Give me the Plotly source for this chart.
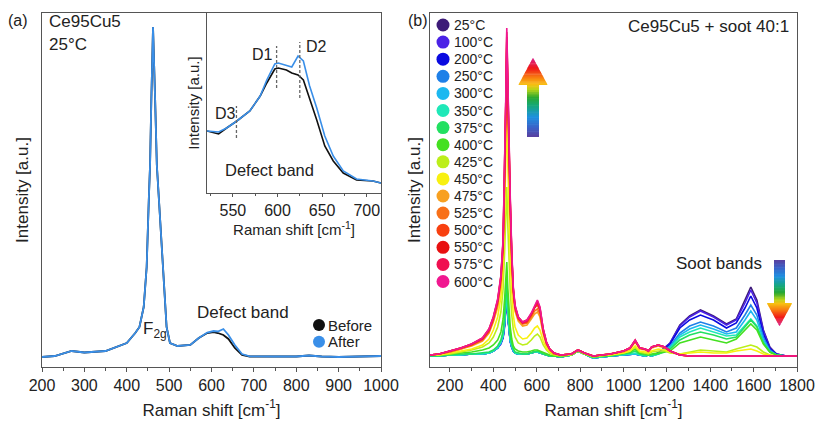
import plotly.graph_objects as go

W, H = 817, 421
FONT = "Arial, 'Liberation Sans', sans-serif"
TXT = "#222222"
AXC = "#555555"

# ---------------- panel (a) data ----------------
X_A = [200, 230, 270, 300, 350, 400, 420, 430, 440, 447, 452, 455, 458, 462, 467, 471, 476, 481, 486, 494,
       502, 520, 550, 570, 590, 605, 615, 628, 640, 655, 672, 690, 750, 800, 830, 860, 900, 950, 1000]
BEFORE = [0, 1, 6, 4.5, 6, 14, 24, 30, 50, 90, 157, 192, 257, 330, 257, 192, 157, 120, 90, 30,
          14, 11, 12, 19, 24, 25, 24, 22, 18, 9, 2, 0.5, 0.5, 0.5, 1.5, 0.5, 0, 0.5, 1]
AFTER = [0, 1, 6, 4.5, 6, 14, 24, 30, 50, 90, 157, 192, 257, 330, 257, 192, 157, 120, 90, 30,
         14, 11, 12, 19, 24.5, 26, 25.5, 28, 22, 12, 3, 0.7, 0.5, 0.5, 1.5, 0.5, 0, 0.5, 1]

# inset (defect band)
X_IN = [521, 534, 543, 554.5, 569, 580.6, 588, 597, 601, 610, 616, 623, 629, 636, 644, 653, 662.5, 673.7, 688.6, 707, 716]
BEFORE_IN = [62, 59, 65, 72, 82, 97, 110, 124, 125, 123, 120, 118, 113, 95, 73, 47, 32, 20, 13, 12, 10]
AFTER_IN = [62, 61, 65, 72, 82, 97, 113, 129, 130, 128, 126, 137, 132, 107, 85, 57, 37, 22, 14, 12, 10]
D_POS = [554, 599, 625]
D_LABELS = ["D3", "D1", "D2"]
D_LOW = [55, 105, 95]
D_HIGH = [87, 147, 151]

# ---------------- panel (b) data ----------------
X_B = [108, 150, 200, 250, 300, 350, 380, 400, 420, 435, 445, 452, 457, 462, 467, 472, 478, 485, 492, 500,
       515, 535, 555, 575, 590, 603, 615, 630, 645, 660, 680, 710, 760, 790, 820, 860, 940, 1000, 1030, 1054,
       1075, 1100, 1115, 1130, 1160, 1190, 1215, 1260, 1305, 1355, 1415, 1475, 1520, 1560, 1587, 1615, 1645,
       1675, 1705, 1750, 1800]
TEMPS = ["25°C", "100°C", "200°C", "250°C", "300°C", "350°C", "375°C", "400°C", "425°C", "450°C",
         "475°C", "525°C", "500°C", "550°C", "575°C", "600°C"]
COLORS = ["#3d1a78", "#4a22e6", "#0a0ae0", "#1e80e8", "#1cb8f0", "#1fe8b8", "#22e060", "#44e020",
          "#bcee1a", "#f8f010", "#f8a020", "#f87018", "#f84010", "#e81010", "#f01050", "#f01890"]
I_25 = [1, 1, 2, 2, 3, 3, 4, 6, 9, 14, 20, 32, 48, 62, 40, 25, 16, 10, 6, 4, 3, 3, 3, 4, 5, 5, 4, 3, 2, 1,
        1, 0, 2, 6, 3, -1, 1, 2, 2, 3, 2, 1, 2, 1, 4, 9, 14, 32, 41, 47, 41, 33, 38, 57, 70, 57, 27, 10, 3, 1, 1]
I_100 = [1, 1, 2, 2, 3, 3, 4, 6, 9, 13, 19, 30, 46, 60, 39, 24, 15, 9, 6, 4, 3, 3, 3, 4, 5, 5, 4, 3, 2, 1,
         1, 0, 2, 6, 3, -1, 1, 2, 2, 3, 2, 1, 2, 1, 4, 9, 14, 31, 40, 46, 40, 32, 37, 54, 67, 54, 26, 9, 3, 1, 1]
I_200 = [1, 1, 2, 2, 3, 3, 4, 6, 9, 14, 20, 33, 50, 64, 41, 26, 16, 10, 6, 4, 3, 3, 3, 4, 5, 5, 4, 3, 2, 1,
         1, 0, 2, 6, 3, -1, 1, 2, 2, 3, 2, 1, 2, 1, 4, 8, 13, 29, 37, 42, 37, 29, 34, 49, 61, 49, 23, 8, 3, 1, 1]
I_250 = [1, 1, 2, 2, 3, 3, 4, 6, 9, 14, 21, 33, 50, 63, 41, 26, 16, 10, 6, 4, 3, 3, 3, 4, 5, 5, 4, 3, 2, 1,
         1, 0, 2, 6, 3, -1, 1, 2, 2, 3, 2, 1, 2, 1, 3, 7, 11, 24, 31, 35, 31, 25, 29, 42, 52, 42, 20, 7, 2, 1, 1]
I_300 = [1, 1, 2, 2, 3, 3, 4, 6, 9, 14, 21, 34, 51, 64, 42, 26, 16, 10, 6, 4, 3, 3, 3, 4, 5, 5, 4, 3, 2, 1,
         1, 0, 2, 6, 3, -1, 1, 2, 2, 3, 2, 1, 2, 1, 3, 7, 10, 22, 28, 32, 28, 23, 25, 37, 46, 37, 17, 6, 2, 1, 1]
I_350 = [1, 1, 2, 2, 3, 3, 4, 6, 10, 15, 22, 35, 53, 66, 43, 27, 17, 11, 7, 4, 3, 3, 3, 4, 5, 5, 4, 3, 2, 1,
         1, 0, 2, 6, 3, -1, 1, 2, 3, 4, 2, 1, 2, 1, 3, 6, 9, 20, 25, 29, 25, 21, 22, 31, 38, 31, 15, 5, 2, 1, 1]
I_375 = [1, 1, 2, 3, 3, 4, 5, 7, 11, 17, 26, 40, 62, 78, 52, 33, 21, 13, 8, 5, 4, 3, 3, 4, 5, 6, 5, 3, 2, 1,
         1, 0, 2, 6, 3, 0, 1, 3, 4, 6, 3, 2, 2, 2, 3, 5, 8, 17, 22, 25, 22, 18, 20, 30, 37, 30, 14, 5, 2, 1, 1]
I_400 = [2, 2, 3, 4, 5, 7, 9, 12, 17, 25, 38, 58, 82, 95, 68, 45, 30, 18, 11, 8, 6, 5, 5, 6, 7, 7, 6, 4, 3, 2,
         1, 1, 2, 6, 3, 0, 2, 4, 5, 8, 4, 3, 2, 3, 4, 5, 6, 14, 17, 20, 17, 14, 18, 27, 33, 27, 13, 5, 2, 1, 1]
I_425 = [2, 2, 3, 5, 7, 10, 14, 20, 30, 45, 68, 105, 145, 170, 130, 95, 65, 42, 28, 20, 14, 12, 13, 17, 21, 23, 20, 12, 7, 4,
         2, 1, 2, 6, 3, 0, 2, 4, 6, 10, 5, 4, 3, 5, 6, 6, 4, 3, 5, 7, 6, 5, 8, 10, 12, 10, 5, 2, 1, 1, 1]
I_450 = [2, 2, 4, 6, 8, 12, 18, 27, 40, 60, 90, 140, 195, 245, 190, 140, 100, 65, 42, 30, 22, 18, 19, 24, 29, 31, 27, 16, 9, 5,
         3, 2, 3, 7, 4, 1, 2, 4, 6, 11, 6, 5, 4, 6, 8, 7, 5, 3, 4, 5, 4, 4, 6, 7, 8, 6, 3, 2, 1, 1, 1]
I_475 = [2, 3, 5, 8, 11, 16, 24, 35, 50, 72, 105, 165, 230, 300, 250, 180, 143, 93, 62, 46, 36, 31, 32, 38, 43, 45, 40, 23, 12, 7,
         3, 2, 3, 7, 4, 1, 3, 5, 8, 15, 8, 7, 5, 9, 11, 9, 6, 2, 1, 1, 1, 1, 1, 1, 1, 1, 1, 1, 1, 1, 1]
I_525 = [2, 3, 5, 8, 12, 17, 25, 37, 53, 76, 110, 172, 238, 310, 258, 186, 148, 97, 65, 48, 38, 33, 34, 40, 46, 48, 43, 25, 13, 7,
         3, 2, 3, 7, 4, 1, 3, 6, 9, 16, 9, 8, 6, 10, 12, 10, 6, 2, 1, 1, 1, 1, 1, 1, 1, 1, 1, 1, 1, 1, 1]
I_500 = [2, 3, 6, 9, 12, 18, 26, 38, 55, 78, 112, 176, 243, 315, 262, 190, 152, 100, 67, 50, 39, 34, 35, 42, 49, 52, 46, 26, 14, 8,
         4, 2, 3, 7, 4, 1, 3, 6, 9, 16, 9, 8, 6, 10, 12, 10, 6, 2, 1, 1, 1, 1, 1, 1, 1, 1, 1, 1, 1, 1, 1]
I_550 = [2, 3, 6, 9, 13, 19, 28, 40, 57, 81, 116, 182, 250, 320, 268, 195, 155, 102, 68, 51, 40, 35, 37, 43, 51, 56, 49, 28, 15, 8,
         4, 2, 3, 7, 4, 1, 3, 6, 9, 17, 9, 8, 6, 10, 12, 10, 6, 2, 1, 1, 1, 1, 1, 1, 1, 1, 1, 1, 1, 1, 1]
I_575 = [2, 3, 6, 9, 13, 18, 27, 39, 56, 80, 115, 180, 250, 325, 270, 196, 156, 102, 68, 50, 39, 34, 36, 43, 50, 55, 48, 27, 14, 8,
         4, 2, 3, 7, 4, 1, 3, 6, 9, 16, 9, 8, 6, 10, 12, 10, 6, 2, 1, 1, 1, 1, 1, 1, 1, 1, 1, 1, 1, 1, 1]
I_600 = [2, 3, 6, 9, 13, 19, 28, 40, 58, 82, 118, 185, 255, 329, 275, 200, 160, 105, 70, 52, 40, 35, 37, 44, 52, 57, 50, 28, 15, 8,
         4, 2, 3, 7, 4, 1, 3, 6, 9, 17, 9, 8, 6, 10, 12, 10, 6, 2, 1, 1, 1, 1, 1, 1, 1, 1, 1, 1, 1, 1, 1]
SERIES_B = [I_25, I_100, I_200, I_250, I_300, I_350, I_375, I_400, I_425, I_450,
            I_475, I_525, I_500, I_550, I_575, I_600]

BLACK = "#111111"
BLUE = "#3a8fe8"


def px(x):
    return x / W


def py(y):
    return 1 - y / H


fig = go.Figure()

# panel (a)
fig.add_trace(go.Scatter(x=X_A, y=BEFORE, mode="lines", line=dict(color=BLACK, width=1.8),
                         name="Before", xaxis="x", yaxis="y", showlegend=False))
fig.add_trace(go.Scatter(x=X_A, y=AFTER, mode="lines", line=dict(color=BLUE, width=1.8),
                         name="After", xaxis="x", yaxis="y", showlegend=False))
# inset
fig.add_trace(go.Scatter(x=X_IN, y=BEFORE_IN, mode="lines", line=dict(color=BLACK, width=1.6),
                         name="Before", xaxis="x2", yaxis="y2", showlegend=False))
fig.add_trace(go.Scatter(x=X_IN, y=AFTER_IN, mode="lines", line=dict(color=BLUE, width=1.6),
                         name="After", xaxis="x2", yaxis="y2", showlegend=False))
# panel (b)
for name, col, ys in zip(TEMPS, COLORS, SERIES_B):
    fig.add_trace(go.Scatter(x=X_B, y=ys, mode="lines", line=dict(color=col, width=1.6),
                             name=name, xaxis="x3", yaxis="y3", showlegend=False))

shapes = []
annotations = []

# inset dashed markers
for xp_, lo, hi in zip(D_POS, D_LOW, D_HIGH):
    shapes.append(dict(type="line", xref="x2", yref="y2", x0=xp_, x1=xp_, y0=lo, y1=hi,
                       line=dict(color="#666666", width=1.3, dash="3px,2px")))
D_TXT_POS = {"D3": (213, 113, "left"), "D1": (275, 55, "right"), "D2": (304, 46, "left")}
for lab in D_LABELS:
    x_, y_, anc = D_TXT_POS[lab]
    annotations.append(dict(x=px(x_), y=py(y_), xref="paper", yref="paper", text=lab, showarrow=False,
                            xanchor=anc, yanchor="middle", font=dict(size=16, color=TXT)))


def ann(x_, y_, text, size=17, anchor="left"):
    annotations.append(dict(x=px(x_), y=py(y_), xref="paper", yref="paper", text=text, showarrow=False,
                            xanchor=anchor, yanchor="middle", font=dict(size=size, color=TXT)))


ann(6, 20, "(a)", 16)
ann(406, 20, "(b)", 16)
ann(47, 22, "Ce95Cu5")
ann(47, 44, "25°C")
ann(269, 170, "Defect band", 16.5, "center")
ann(243, 312, "Defect band", 17, "center")
ann(141, 330, "F<sub>2g</sub>", 17)
ann(791, 27, "Ce95Cu5 + soot 40:1", 17, "right")
ann(719, 263, "Soot bands", 17, "center")

# legend (a)
for i, (lab, col) in enumerate(zip(["Before", "After"], [BLACK, BLUE])):
    cy = 325 + i * 16.7
    r = 6
    shapes.append(dict(type="circle", xref="paper", yref="paper", x0=px(319 - r), x1=px(319 + r),
                       y0=py(cy + r), y1=py(cy - r), fillcolor=col, line=dict(width=0)))
    ann(326, cy, lab, 15)

# legend (b)
for i, (lab, col) in enumerate(zip(TEMPS, COLORS)):
    cy = 25 + i * 17.1
    r = 6.5
    shapes.append(dict(type="circle", xref="paper", yref="paper", x0=px(443 - r), x1=px(443 + r),
                       y0=py(cy + r), y1=py(cy - r), fillcolor=col, line=dict(width=0)))
    ann(452, cy, lab, 14)

# gradient arrows
STOPS = [(0.0, (91, 63, 158)), (0.12, (58, 98, 200)), (0.25, (30, 144, 224)), (0.40, (22, 168, 120)),
         (0.50, (42, 168, 48)), (0.60, (184, 212, 24)), (0.66, (248, 192, 16)), (0.75, (248, 128, 16)),
         (0.87, (240, 24, 24)), (1.0, (216, 30, 140))]


def color_at(t):
    for (t0, c0), (t1, c1) in zip(STOPS[:-1], STOPS[1:]):
        if t <= t1:
            f = (t - t0) / (t1 - t0) if t1 > t0 else 0
            return "rgb(%d,%d,%d)" % tuple(round(a + (b - a) * f) for a, b in zip(c0, c1))
    return "rgb(%d,%d,%d)" % STOPS[-1][1]


def grad_arrow(cx, y_start, y_head, y_tip, shaft_w, head_w, n_shaft=30, n_head=24):
    total = y_tip - y_start
    fh = (y_head - y_start) / total
    sgn = 1 if total > 0 else -1
    for i in range(n_shaft):
        t0, t1 = fh * i / n_shaft, fh * (i + 1) / n_shaft
        ya, yb = y_start + t0 * total, y_start + t1 * total + sgn * 0.6
        shapes.append(dict(type="rect", xref="paper", yref="paper", x0=px(cx - shaft_w / 2), x1=px(cx + shaft_w / 2),
                           y0=py(ya), y1=py(yb), fillcolor=color_at((t0 + t1) / 2), line=dict(width=0)))
    for i in range(n_head):
        t0 = fh + (1 - fh) * i / n_head
        t1 = fh + (1 - fh) * (i + 1) / n_head
        w0 = head_w * (1 - (t0 - fh) / (1 - fh)) / 2
        w1 = head_w * (1 - (t1 - fh) / (1 - fh)) / 2
        ya = y_start + t0 * total
        yb = y_start + t1 * total + (sgn * 0.5 if i < n_head - 1 else 0)
        path = "M %f,%f L %f,%f L %f,%f L %f,%f Z" % (px(cx - w0), py(ya), px(cx + w0), py(ya),
                                                      px(cx + w1), py(yb), px(cx - w1), py(yb))
        shapes.append(dict(type="path", xref="paper", yref="paper", path=path,
                           fillcolor=color_at((t0 + t1) / 2), line=dict(width=0)))


grad_arrow(533, 137, 85, 58, 12, 29)
grad_arrow(779.5, 260, 303, 326, 11, 25)

axis_common = dict(showline=True, linecolor=AXC, linewidth=1, mirror=True, showgrid=False, zeroline=False,
                   automargin=False, tickfont=dict(size=16, color=TXT, family=FONT), color=TXT)

DOM_Y = [py(367), py(13)]
fig.update_layout(
    template="none",
    width=W, height=H,
    margin=dict(l=0, r=0, t=0, b=0, autoexpand=False),
    paper_bgcolor="white", plot_bgcolor="white",
    font=dict(family=FONT, color=TXT),
    showlegend=False,
    xaxis=dict(axis_common, domain=[px(42), px(381)], range=[200, 1000], anchor="y",
               tickmode="linear", tick0=200, dtick=100, ticks="outside", ticklen=4, tickcolor=AXC,
               minor=dict(dtick=50, ticks="outside", ticklen=2.5, tickcolor=AXC),
               title=dict(text="Raman shift [cm<sup>-1</sup>]", font=dict(size=17), standoff=10)),
    yaxis=dict(axis_common, domain=DOM_Y, range=[-10, 344], anchor="x", showticklabels=False, ticks="",
               title=dict(text="Intensity [a.u.]", font=dict(size=17), standoff=8)),
    xaxis2=dict(axis_common, domain=[px(207), px(381)], range=[521, 716], anchor="y2",
                tickvals=[550, 600, 650, 700], ticks="outside", ticklen=3, tickcolor=AXC,
                minor=dict(tickvals=[525, 575, 625, 675], ticks="outside", ticklen=2, tickcolor=AXC),
                title=dict(text="Raman shift [cm<sup>-1</sup>]", font=dict(size=15), standoff=3)),
    yaxis2=dict(axis_common, domain=[py(193), py(13)], range=[0, 180], anchor="x2", showticklabels=False,
                ticks="", title=dict(text="Intensity [a.u.]", font=dict(size=15), standoff=2)),
    xaxis3=dict(axis_common, domain=[px(430), px(797)], range=[108, 1800], anchor="y3",
                tickmode="linear", tick0=200, dtick=200, ticks="outside", ticklen=4, tickcolor=AXC,
                minor=dict(dtick=100, ticks="outside", ticklen=2.5, tickcolor=AXC),
                title=dict(text="Raman shift [cm<sup>-1</sup>]", font=dict(size=17), standoff=10)),
    yaxis3=dict(axis_common, domain=DOM_Y, range=[-10, 344], anchor="x3", showticklabels=False, ticks="",
                title=dict(text="Intensity [a.u.]", font=dict(size=17), standoff=4)),
    shapes=shapes,
    annotations=annotations,
)

fig.write_html("out.html", config={"displayModeBar": False},
               post_script="document.body.style.margin='0';document.body.style.padding='0';")
